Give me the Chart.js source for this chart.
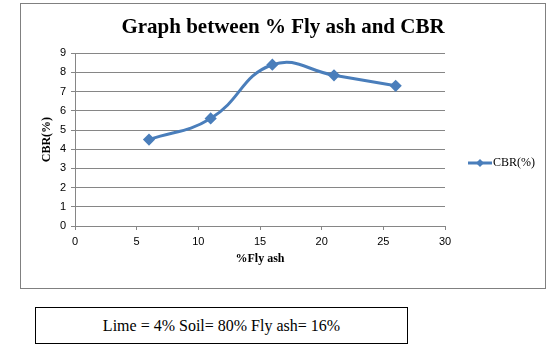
<!DOCTYPE html>
<html>
<head>
<meta charset="utf-8">
<script src="https://cdn.jsdelivr.net/npm/chart.js@4.4.1/dist/chart.umd.min.js"></script>
<style>
  body { margin: 0; background: #fff; }
  #page { position: relative; width: 558px; height: 352px; overflow: hidden; }
  #frame { position: absolute; left: 20px; top: 3px; width: 524px; height: 284px; border: 1px solid #808080; }
  #note { position: absolute; left: 35px; top: 307px; width: 371px; height: 35px; border: 1px solid #000;
          font-family: "Liberation Serif", "Times New Roman", serif; font-size: 16px; text-align: center; line-height: 35px; }
</style>
</head>
<body>
<div id="page">
  <div id="frame"><canvas id="myChart" width="524" height="284"></canvas></div>
  <div id="note">Lime = 4% Soil= 80% Fly ash= 16%</div>
</div>
<script>
    // values
    var flyAsh = [6, 11, 16, 21, 26];
    var cbr = [4.5, 5.6, 8.4, 7.85, 7.3];
    var xTicks = [0, 5, 10, 15, 20, 25, 30];
    var yTicks = [0, 1, 2, 3, 4, 5, 6, 7, 8, 9];
    var seriesName = 'CBR(%)';

    var blue = '#4a7ebb';
    var gridGray = '#868686';

    var points = [];
    for (var i = 0; i < flyAsh.length; i++) {
        points.push({ x: flyAsh[i], y: cbr[i] });
    }

    // legend drawn by hand so it sits where Excel put it
    var sideLegend = {
        id: 'sideLegend',
        afterDraw: function (chart) {
            var ctx = chart.ctx;
            var ds = chart.data.datasets[0];
            var y = 159;
            ctx.save();
            ctx.strokeStyle = ds.borderColor;
            ctx.lineWidth = 3;
            ctx.beginPath();
            ctx.moveTo(447, y);
            ctx.lineTo(471, y);
            ctx.stroke();
            ctx.fillStyle = ds.borderColor;
            ctx.beginPath();
            ctx.moveTo(459, y - 4);
            ctx.lineTo(463, y);
            ctx.lineTo(459, y + 4);
            ctx.lineTo(455, y);
            ctx.closePath();
            ctx.fill();
            ctx.fillStyle = '#000';
            ctx.font = '12px "Liberation Serif", serif';
            ctx.textBaseline = 'middle';
            ctx.fillText(ds.label, 472, y);
            ctx.restore();
        }
    };

    new Chart(document.getElementById('myChart'), {
        type: 'line',
        data: {
            datasets: [{
                label: seriesName,
                data: points,
                borderColor: blue,
                backgroundColor: blue,
                borderWidth: 3,
                tension: 0.45,
                fill: false,
                pointStyle: 'rectRot',
                pointRadius: 4,
                pointBackgroundColor: blue,
                pointBorderColor: blue
            }]
        },
        options: {
            responsive: false,
            animation: false,
            layout: { padding: 0 },
            plugins: {
                legend: { display: false },
                tooltip: { enabled: false },
                title: {
                    display: true,
                    text: 'Graph between % Fly ash and CBR',
                    color: '#000',
                    font: { family: '"Liberation Serif", serif', size: 21, weight: 'bold' },
                    padding: { top: 11, bottom: 13 }
                }
            },
            scales: {
                x: {
                    type: 'linear',
                    min: 0,
                    max: 30,
                    afterBuildTicks: function (scale) {
                        scale.ticks = xTicks.map(function (v) { return { value: v }; });
                    },
                    afterFit: function (scale) { scale.height = 62; },
                    grid: { drawOnChartArea: false, drawTicks: true, tickLength: 4, color: gridGray },
                    border: { color: gridGray },
                    ticks: { color: '#000', padding: 5, maxRotation: 0,
                        font: { family: '"Liberation Sans", sans-serif', size: 11 } },
                    title: {
                        display: true,
                        text: '%Fly ash',
                        color: '#000',
                        font: { family: '"Liberation Serif", serif', size: 12, weight: 'bold' },
                        padding: { top: 0, bottom: 22 }
                    }
                },
                y: {
                    min: 0,
                    max: 9,
                    afterBuildTicks: function (scale) {
                        scale.ticks = yTicks.map(function (v) { return { value: v }; });
                    },
                    afterFit: function (scale) { scale.width = 54; },
                    grid: { drawTicks: true, tickLength: 4, color: gridGray },
                    border: { color: gridGray },
                    ticks: { color: '#000', padding: 5,
                        font: { family: '"Liberation Sans", sans-serif', size: 11 } },
                    title: {
                        display: true,
                        text: 'CBR(%)',
                        color: '#000',
                        font: { family: '"Liberation Serif", serif', size: 12, weight: 'bold' },
                        padding: { top: 19, bottom: 0 }
                    }
                },
                // empty axis on the right that only reserves room for the legend
                side: {
                    position: 'right',
                    afterFit: function (scale) { scale.width = 100; },
                    grid: { display: false },
                    border: { display: false },
                    ticks: { display: false }
                }
            }
        },
        plugins: [sideLegend]
    });
</script>
</body>
</html>
